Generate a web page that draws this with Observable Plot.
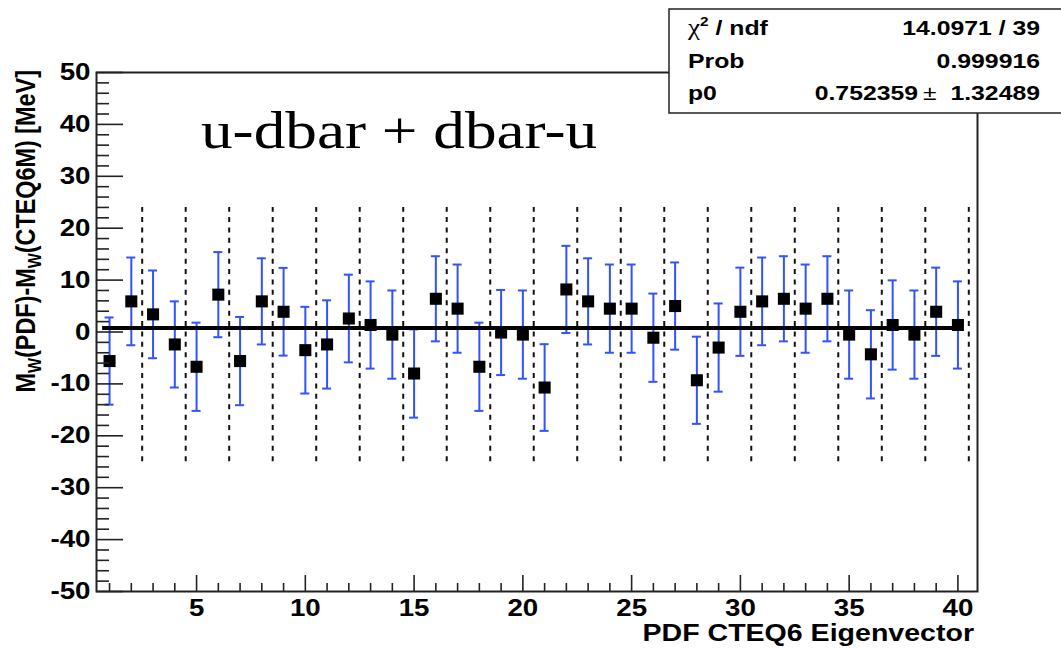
<!DOCTYPE html>
<html><head><meta charset="utf-8">
<script src="https://cdn.jsdelivr.net/npm/d3@7"></script>
<script src="https://cdn.jsdelivr.net/npm/@observablehq/plot@0.6"></script>
<style>body{margin:0;background:#fff} svg{display:block}</style>
</head><body><div id="chart"></div>
<script>
// ---- data ----
const eigenvector = [1,2,3,4,5,6,7,8,9,10,11,12,13,14,15,16,17,18,19,20,21,22,23,24,25,26,27,28,29,30,31,32,33,34,35,36,37,38,39,40];
const deltaMw = [-5.6, 5.9, 3.4, -2.4, -6.7, 7.2, -5.6, 5.9, 3.9, -3.5, -2.4, 2.6, 1.35, -0.5, -8.0, 6.4, 4.5, -6.7, -0.1, -0.5, -10.7, 8.2, 5.9, 4.5, 4.5, -1.1, 5.0, -9.3, -3.0, 3.9, 5.9, 6.4, 4.5, 6.4, -0.5, -4.3, 1.35, -0.5, 3.9, 1.35];
const errMw = [8.4, 8.45, 8.45, 8.3, 8.5, 8.2, 8.5, 8.3, 8.45, 8.35, 8.5, 8.45, 8.4, 8.5, 8.5, 8.2, 8.5, 8.5, 8.2, 8.5, 8.35, 8.4, 8.3, 8.5, 8.5, 8.5, 8.4, 8.4, 8.5, 8.5, 8.45, 8.2, 8.5, 8.2, 8.5, 8.5, 8.6, 8.5, 8.5, 8.4];
const separators = [2.5, 4.5, 6.5, 8.5, 10.5, 12.5, 14.5, 16.5, 18.5, 20.5, 22.5, 24.5, 26.5, 28.5, 30.5, 32.5, 34.5, 36.5, 38.5, 40.5];
const separatorRange = [-25, 24];
const fitP0 = 0.752359;
const fitRange = [0.68, 40.23];
const xMajor = [5, 10, 15, 20, 25, 30, 35, 40];
const xMinor = [1,2,3,4,6,7,8,9,11,12,13,14,16,17,18,19,21,22,23,24,26,27,28,29,31,32,33,34,36,37,38,39];
const yMajor = [-50, -40, -30, -20, -10, 0, 10, 20, 30, 40, 50];
const yMinor = [-48,-46,-44,-42,-38,-36,-34,-32,-28,-26,-24,-22,-18,-16,-14,-12,-8,-6,-4,-2,2,4,6,8,12,14,16,18,22,24,26,28,32,34,36,38,42,44,46,48];
const statsLabels = ["ndf", "Prob", "p0"];
const statsValues = ["14.0971 / 39", "0.999916", ["0.752359", "1.32489"]];
const title = "u-dbar + dbar-u";
const xTitle = "PDF CTEQ6 Eigenvector";

const points = eigenvector.map((x, i) => ({x, y: deltaMw[i], e: errMw[i]}));

const S = 1.18; // horizontal stretch of the original picture
const blue = "#3153ff";

const svg = Plot.plot({
  width: 1061, height: 648,
  marginLeft: 96, marginRight: 84, marginTop: 72, marginBottom: 57,
  style: {fontFamily: "'Liberation Sans', Arial, sans-serif", background: "white", color: "black"},
  x: {domain: [0.4, 40.9]},
  y: {domain: [-50, 50]},
  marks: [
    Plot.ruleX(separators, {x: d => d, y1: separatorRange[0], y2: separatorRange[1], stroke: "#111", strokeWidth: 2, strokeDasharray: "5,5.4"}),
    Plot.ruleX(points, {x: "x", y1: d => d.y - d.e, y2: d => d.y + d.e, stroke: blue, strokeWidth: 2}),
    Plot.ruleY(points, {y: d => d.y - d.e, x1: "x", x2: "x", insetLeft: -4.5, insetRight: -4.5, stroke: blue, strokeWidth: 2}),
    Plot.ruleY(points, {y: d => d.y + d.e, x1: "x", x2: "x", insetLeft: -4.5, insetRight: -4.5, stroke: blue, strokeWidth: 2}),
    Plot.ruleY([fitP0], {y: d => d, x1: fitRange[0], x2: fitRange[1], stroke: "black", strokeWidth: 4}),
    Plot.dot(points, {x: "x", y: "y", symbol: "square", r: 6.8, fill: "black", stroke: "none"}),
    // inward ROOT-style ticks
    Plot.ruleX(xMajor, {x: d => d, y1: -50, y2: -50, insetTop: -16, stroke: "#222", strokeWidth: 1.6}),
    Plot.ruleX(xMinor, {x: d => d, y1: -50, y2: -50, insetTop: -8, stroke: "#222", strokeWidth: 1.6}),
    Plot.ruleY(yMajor, {y: d => d, x1: 0.4, x2: 0.4, insetRight: -27, stroke: "#222", strokeWidth: 1.6}),
    Plot.ruleY(yMinor, {y: d => d, x1: 0.4, x2: 0.4, insetRight: -13, stroke: "#222", strokeWidth: 1.6}),
    Plot.frame({stroke: "#222", strokeWidth: 2}),
    Plot.axisX({ticks: xMajor, tickSize: 0, tickPadding: 8, fontSize: 23.5, fontWeight: "bold", tickFormat: d => String(d), label: null}),
    Plot.axisY({ticks: yMajor, tickSize: 0, tickPadding: 6, fontSize: 23.5, fontWeight: "bold", tickFormat: d => String(d), label: null})
  ]
});
document.getElementById("chart").append(svg);

const root = d3.select(svg);
// x axis title
root.append("text").attr("x", 974).attr("y", 641).attr("text-anchor", "end")
  .attr("font-size", 24.2).attr("font-weight", "bold").attr("fill", "black").text(xTitle);
// in-plot title
root.append("text").attr("x", 201).attr("y", 148).attr("text-anchor", "start")
  .attr("font-family", "'Liberation Serif', 'Times New Roman', serif").attr("font-size", 53.6).attr("fill", "black").text(title);

// stats box
const box = root.append("g").attr("font-size", 21).attr("font-weight", "bold").attr("fill", "black");
box.append("rect").attr("x", 669).attr("y", 9).attr("width", 420).attr("height", 104)
  .attr("fill", "white").attr("stroke", "#222").attr("stroke-width", 1.5);
const rowY = [35, 68, 100];
const t0 = box.append("text").attr("x", 688).attr("y", rowY[0]).attr("text-anchor", "start");
t0.append("tspan").attr("font-family", "'Liberation Serif', serif").attr("font-weight", "normal").attr("font-size", 23).text("χ");
t0.append("tspan").attr("font-size", 13).attr("dy", -9).text("2");
t0.append("tspan").attr("dy", 9).text(" / " + statsLabels[0]);
box.append("text").attr("x", 688).attr("y", rowY[1]).attr("text-anchor", "start").text(statsLabels[1]);
box.append("text").attr("x", 688).attr("y", rowY[2]).attr("text-anchor", "start").text(statsLabels[2]);
box.append("text").attr("x", 1040).attr("y", rowY[0]).attr("text-anchor", "end").text(statsValues[0]);
box.append("text").attr("x", 1040).attr("y", rowY[1]).attr("text-anchor", "end").text(statsValues[1]);
const t3 = box.append("text").attr("x", 1040).attr("y", rowY[2]).attr("text-anchor", "end");
t3.append("tspan").text(statsValues[2][0]);
t3.append("tspan").attr("font-weight", "normal").text("\u2009±");
t3.append("tspan").text("  " + statsValues[2][1]);

// stretch all horizontal texts like the original picture
root.selectAll("text").each(function() {
  const L = this.getComputedTextLength();
  if (L > 0) {
    this.setAttribute("textLength", (L * S).toFixed(1));
    this.setAttribute("lengthAdjust", "spacingAndGlyphs");
  }
});

// rotated y-axis label with subscripts
const yl = root.append("text")
  .attr("transform", `translate(35,70) scale(${S},1) rotate(-90)`)
  .attr("text-anchor", "end").attr("font-size", 23.4).attr("font-weight", "bold").attr("fill", "black");
yl.append("tspan").text("M");
yl.append("tspan").attr("font-size", 16).attr("dy", 5).text("W");
yl.append("tspan").attr("dy", -5).text("(PDF)-M");
yl.append("tspan").attr("font-size", 16).attr("dy", 5).text("W");
yl.append("tspan").attr("dy", -5).text("(CTEQ6M) [MeV]");
</script>
</body></html>
